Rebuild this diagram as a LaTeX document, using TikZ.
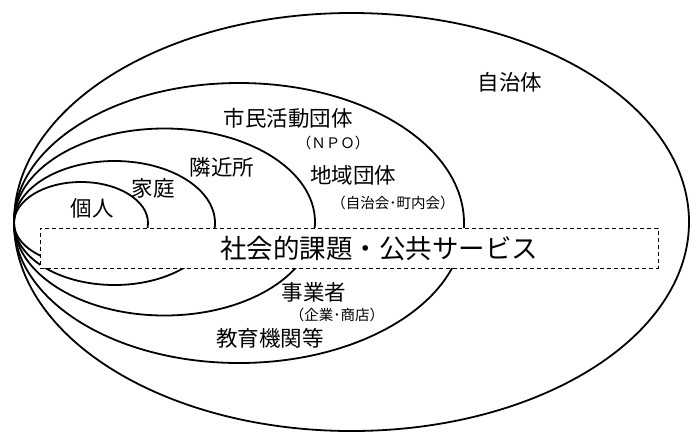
\documentclass[tikz,border=0pt]{standalone}
\usepackage{fontspec}
\setmainfont{Noto Sans CJK JP}
\begin{document}
\begin{tikzpicture}[x=1pt,y=-1pt,
  ring/.style={draw=black,line width=1.8pt},
  lbl/.style={inner sep=0pt,font=\fontsize{21.5}{24}\selectfont},
  sub/.style={inner sep=0pt,font=\fontsize{14.5}{16}\selectfont},
  band/.style={draw=black,fill=white,line width=0.8pt,dash pattern=on 4pt off 3pt}]
\useasboundingbox (0,0) rectangle (692,432);
\fill[white] (0,0) rectangle (692,432);
% nested ellipses, all touching at the left
\draw[ring] (351.5,222) ellipse [x radius=337.5pt, y radius=209pt];
\draw[ring] (239,223) ellipse [x radius=225pt, y radius=140pt];
\draw[ring] (164.5,222) ellipse [x radius=150.5pt, y radius=93.5pt];
\draw[ring] (114.5,223) ellipse [x radius=100.5pt, y radius=62pt];
\draw[ring] (81,223) ellipse [x radius=67pt, y radius=41pt];
% dashed band
\node[band,minimum width=618pt,minimum height=40pt,inner sep=0pt,anchor=north west] (band) at (40,228) {};
\node[inner sep=0pt,font=\fontsize{26.5}{28}\selectfont] (issue) at (379,248) {社会的課題・公共サービス};
% labels
\node[lbl] (jichitai) at (510,82) {自治体};
\node[lbl] (shimin) at (288,118) {市民活動団体};
\node[sub] (npo) at (333,143) {（ＮＰＯ）};
\node[lbl] (rinkin) at (222,167) {隣近所};
\node[lbl] (chiiki) at (353,175) {地域団体};
\node[sub] (jichikai) at (393,203) {（自治会･町内会）};
\node[lbl] (katei) at (153,188) {家庭};
\node[lbl] (kojin) at (92,208) {個人};
\node[lbl] (jigyo) at (314,292) {事業者};
\node[sub] (kigyo) at (337,315) {（企業･商店）};
\node[lbl] (kyoiku) at (270,338) {教育機関等};
\end{tikzpicture}
\end{document}
